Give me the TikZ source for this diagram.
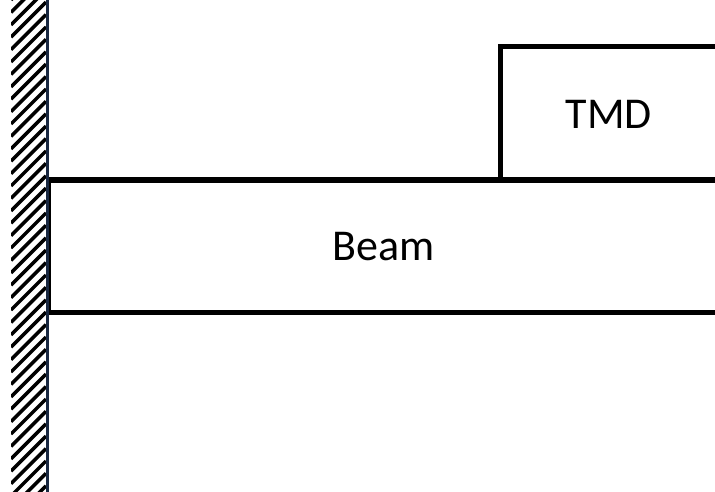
\documentclass[tikz,border=0pt]{standalone}
\usepackage{fontspec}
\setmainfont{Carlito}
\begin{document}
\begin{tikzpicture}[x=1pt,y=-1pt,
  part/.style={draw=black,line width=5pt,fill=white},
  lbl/.style={font=\fontsize{44}{50}\selectfont,inner sep=0pt},
  hatchline/.style={line width=3.5pt,black},
  wallline/.style={line width=3pt,draw={rgb,255:red,25;green,40;blue,65}}]
\useasboundingbox (0,0) rectangle (715,492);
\begin{scope}
  \clip (11,0) rectangle (46,492);
  \foreach \k in {0,...,45}{
    \draw[hatchline] (11,{\k*12.4}) -- (46,{\k*12.4-35});
  }
\end{scope}
\draw[part] (48,180) rectangle (740,312);
\draw[part] (500,47) rectangle (740,180);
\draw[wallline] (47,0) -- (47,492);
\node[lbl] (beam) at (384,247) {Beam};
\node[lbl] (tmd) at (609,114) {TMD};
\end{tikzpicture}
\end{document}
